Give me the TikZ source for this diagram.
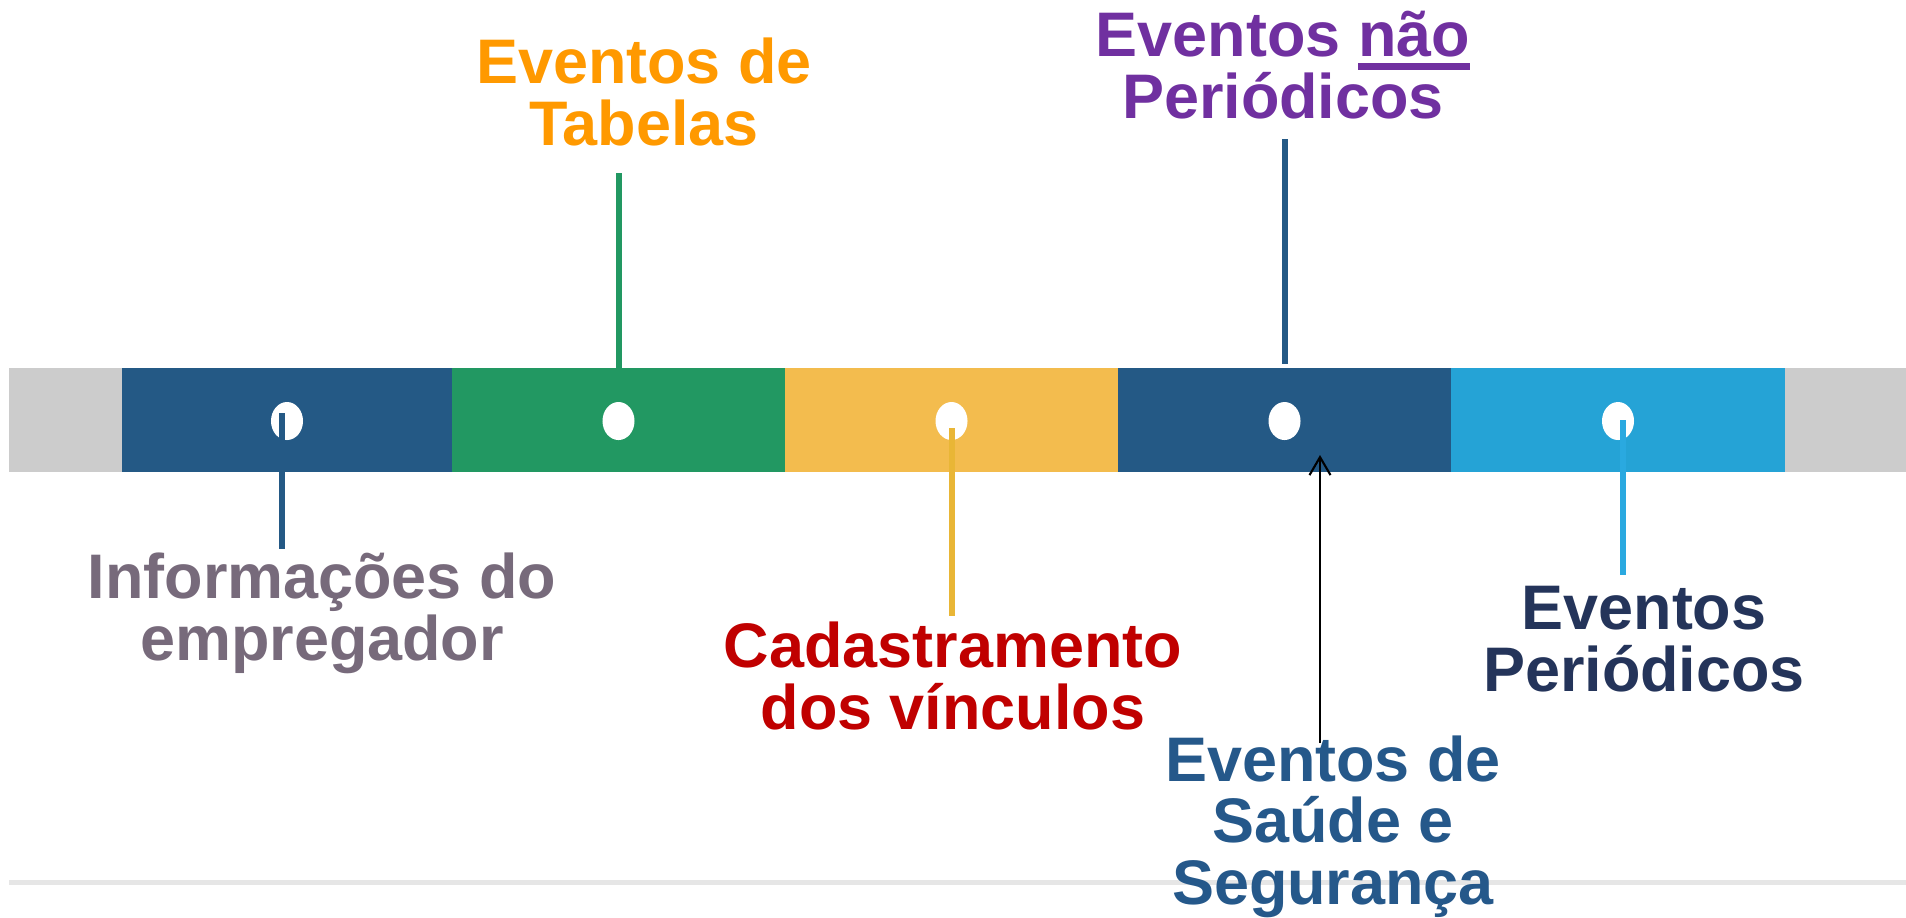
\documentclass[tikz,border=0pt]{standalone}
\usepackage{fontspec}
\setmainfont{Liberation Sans}
\usetikzlibrary{arrows.meta,shapes.geometric}
\definecolor{cinza}{HTML}{CCCCCC}
\definecolor{cinzaclaro}{HTML}{E6E6E6}
\definecolor{azul}{HTML}{245985}
\definecolor{verde}{HTML}{229862}
\definecolor{amarelo}{HTML}{F3BC4E}
\definecolor{amarelolinha}{HTML}{E9B636}
\definecolor{ciano}{HTML}{25A3D6}
\definecolor{cianolinha}{HTML}{2AA9E0}
\definecolor{laranja}{HTML}{FF9900}
\definecolor{roxo}{HTML}{7030A0}
\definecolor{malva}{HTML}{776A7B}
\definecolor{vermelho}{HTML}{C00000}
\definecolor{marinho}{HTML}{24345A}
\definecolor{azultexto}{HTML}{25588A}
\newcommand{\sublinhado}[1]{\setbox0\hbox{#1}\rlap{\rule[-0.13cm]{\wd0}{0.07cm}}\box0}
\tikzset{
	ponto/.style={ellipse,fill=white,inner sep=0pt,minimum width=0.32cm,minimum height=0.38cm},
	rotulo/.style={align=center,anchor=base,inner sep=0pt,font=\fontsize{17.9}{17.4}\selectfont\bfseries},
	haste/.style={line width=1.5pt},
}

\begin{document}
\begin{tikzpicture}[x=0.01cm,y=-0.01cm]
		%%%%% START %%%%%
		\useasboundingbox (0,0) rectangle (1906,917);
		
		% barra
		\fill[cinza] (8.5,368) rectangle (1906,472);
		\fill[azul] (121.6,368) rectangle (452,472);
		\fill[verde] (452,368) rectangle (785,472);
		\fill[amarelo] (785,368) rectangle (1118,472);
		\fill[azul] (1118,368) rectangle (1451,472);
		\fill[ciano] (1451,368) rectangle (1784.5,472);
		\fill[cinzaclaro] (8.5,880) rectangle (1906,885);
		
		\node[ponto] (d1) at (287,421) {};
		\node[ponto] (d2) at (618.5,421) {};
		\node[ponto] (d3) at (951.5,421) {};
		\node[ponto] (d4) at (1284.5,421) {};
		\node[ponto] (d5) at (1618,421) {};
		
		% rotulos (base = ultima linha)
		\node[rotulo,text=laranja] (tabelas) at (644,145) {Eventos de\\Tabelas};
		\node[rotulo,text=roxo] (naoper) at (1283,118) {Eventos \sublinhado{não}\\Periódicos};
		\node[rotulo,text=malva] (empregador) at (322,660) {Informações do\\empregador};
		\node[rotulo,text=vermelho] (vinculos) at (953,729) {Cadastramento\\dos vínculos};
		\node[rotulo,text=marinho] (periodicos) at (1644,691) {Eventos\\Periódicos};
		\node[rotulo,text=azultexto] (saude) at (1333,904) {Eventos de\\Saúde e\\Segurança};
		
		% hastes
		\coordinate (h1) at (282,549);
		\coordinate (h2) at (619,173);
		\coordinate (h3) at (952,616);
		\coordinate (h4) at (1285,139);
		\coordinate (h5) at (1623,575);
		\coordinate (h6) at (1320,743);
		\draw[haste,azul] (d1.center) ++(-5,-8) -- (h1);
		\draw[haste,verde] (h2) -- (h2 |- 0,368);
		\draw[haste,amarelolinha] (d3.center) ++(0.5,7) -- (h3);
		\draw[haste,azul] (h4) -- (h4 |- 0,364);
		\draw[haste,cianolinha] (d5.center) ++(5,-1) -- (h5);
		\draw[line width=0.6pt,-{Straight Barb[length=0.18cm,width=0.21cm]}] (h6) -- (h6 |- 0,455);
		%%%%% END %%%%%
\end{tikzpicture}
\end{document}
